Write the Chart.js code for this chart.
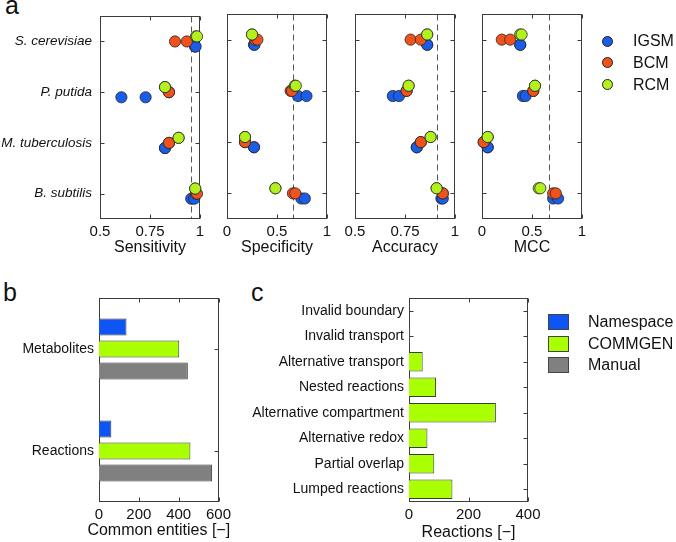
<!DOCTYPE html>
<html><head><meta charset="utf-8">
<script src="https://cdn.jsdelivr.net/npm/chart.js@4.4.0/dist/chart.umd.min.js"></script>
<style>
html,body{margin:0;padding:0;background:#fff;}
body{width:676px;height:542px;position:relative;overflow:hidden;font-family:"Liberation Sans",Arial,sans-serif;color:#111;}
canvas{position:absolute;}
.plabel{position:absolute;font-size:25px;line-height:25px;color:#111;}
.dot{position:absolute;width:11px;height:11px;border-radius:50%;border:1px solid #222;box-sizing:border-box;}
.sq{position:absolute;width:21px;height:16px;border:1px solid #444;box-sizing:border-box;}
.lt{position:absolute;font-size:16px;line-height:16px;white-space:nowrap;}
</style></head><body>
<div class="plabel" style="left:5px;top:-7px;">a</div>
<div class="plabel" style="left:3px;top:280px;">b</div>
<div class="plabel" style="left:251px;top:280px;">c</div>
<canvas id="cSens"></canvas>
<canvas id="cSpec"></canvas>
<canvas id="cAcc"></canvas>
<canvas id="cMcc"></canvas>
<canvas id="cEnt"></canvas>
<canvas id="cRea"></canvas>
<div id="legA"></div>
<div id="legB"></div>
<script>
// ---------------- DATA ----------------
const organisms = ['S. cerevisiae', 'P. putida', 'M. tuberculosis', 'B. subtilis'];
const models = ['IGSM', 'BCM', 'RCM'];
// two values per organism, in organism order
const sensitivityIGSM = [0.975, 0.978, 0.607, 0.728, 0.825, 0.825, 0.956, 0.971];
const sensitivityBCM  = [0.875, 0.934, 0.845, 0.845, 0.845, 0.845, 0.980, 0.985];
const sensitivityRCM  = [0.980, 0.985, 0.825, 0.825, 0.893, 0.893, 0.976, 0.976];
const specificityIGSM = [0.270, 0.275, 0.710, 0.795, 0.270, 0.270, 0.744, 0.778];
const specificityBCM  = [0.281, 0.304, 0.636, 0.650, 0.180, 0.180, 0.659, 0.683];
const specificityRCM  = [0.250, 0.250, 0.678, 0.688, 0.180, 0.180, 0.484, 0.484];
const accuracyIGSM = [0.861, 0.861, 0.689, 0.720, 0.809, 0.809, 0.932, 0.939];
const accuracyBCM  = [0.778, 0.829, 0.758, 0.758, 0.829, 0.829, 0.939, 0.939];
const accuracyRCM  = [0.861, 0.861, 0.768, 0.768, 0.878, 0.878, 0.908, 0.908];
const mccIGSM = [0.382, 0.382, 0.409, 0.436, 0.057, 0.057, 0.711, 0.761];
const mccBCM  = [0.198, 0.282, 0.513, 0.513, 0.017, 0.017, 0.711, 0.738];
const mccRCM  = [0.382, 0.396, 0.530, 0.530, 0.057, 0.057, 0.567, 0.583];
const thresholds = [0.956, 0.658, 0.910, 0.667];
const metricTitles = ['Sensitivity', 'Specificity', 'Accuracy', 'MCC'];

const entityCategories = ['Metabolites', 'Reactions'];
const entitySeries = ['Namespace', 'COMMGEN', 'Manual'];
const namespaceCounts = [138, 62];
const commgenCounts = [403, 459];
const manualCounts = [446, 568];

const reactionCategories = ['Invalid boundary', 'Invalid transport', 'Alternative transport', 'Nested reactions',
  'Alternative compartment', 'Alternative redox', 'Partial overlap', 'Lumped reactions'];
const reactionCounts = [0, 1.5, 46, 91, 292, 62, 85, 146];

// ---------------- STYLE ----------------
const FONT = '"Liberation Sans", Arial, sans-serif';
Chart.defaults.font.family = FONT;
Chart.defaults.color = '#111';
Chart.defaults.animation = false;
const modelColors = ['#1a5de8', '#f0521c', '#b2f01e'];
const barColors = ['#0f55f5', '#aaff00', '#808080'];
const rowOffset = [0.1, 0, -0.1];

function place(id, left, top, w, h) {
  const c = document.getElementById(id);
  c.width = w; c.height = h;
  c.style.left = left + 'px'; c.style.top = top + 'px';
  c.style.width = w + 'px'; c.style.height = h + 'px';
  return c;
}

const framePlugin = {
  id: 'frame',
  beforeDatasetsDraw(chart, args, opts) {
    const { ctx, chartArea: a, scales } = chart;
    const L = Math.round(a.left) + 0.5, R = Math.round(a.right) - 0.5;
    const T = Math.round(a.top) + 0.5, B = Math.round(a.bottom) - 0.5;
    const xs = scales.x, ys = scales.y, tl = 4;
    ctx.save();
    if (opts.threshold != null) {
      const px = Math.round(xs.getPixelForValue(opts.threshold)) + 0.5;
      ctx.strokeStyle = '#555'; ctx.lineWidth = 1; ctx.setLineDash([6, 4]);
      ctx.beginPath(); ctx.moveTo(px, T); ctx.lineTo(px, B); ctx.stroke();
      ctx.setLineDash([]);
    }
    ctx.strokeStyle = '#3c3c3c'; ctx.lineWidth = 1;
    ctx.strokeRect(L, T, R - L, B - T);
    ctx.beginPath();
    xs.ticks.forEach((t, i) => {
      const px = Math.round(xs.getPixelForTick(i)) + 0.5;
      ctx.moveTo(px, B); ctx.lineTo(px, B - tl); ctx.moveTo(px, T); ctx.lineTo(px, T + tl);
    });
    ys.ticks.forEach((t, i) => {
      const py = Math.round(ys.getPixelForTick(i)) + 0.5;
      ctx.moveTo(L, py); ctx.lineTo(L + tl, py); ctx.moveTo(R, py); ctx.lineTo(R - tl, py);
    });
    ctx.stroke();
    ctx.restore();
  },
  afterDraw(chart, args, opts) {
    if (!opts.title) return;
    const { ctx, chartArea: a } = chart;
    ctx.save();
    ctx.font = '16px ' + FONT;
    ctx.fillStyle = '#111';
    ctx.textAlign = 'center';
    ctx.textBaseline = 'middle';
    ctx.fillText(opts.title, (a.left + a.right) / 2, opts.titleY);
    ctx.restore();
  }
};

function fmt(v) { return String(+Number(v).toFixed(2)); }

// ---------------- PANEL A ----------------
const metricSeries = [
  [sensitivityIGSM, sensitivityBCM, sensitivityRCM],
  [specificityIGSM, specificityBCM, specificityRCM],
  [accuracyIGSM, accuracyBCM, accuracyRCM],
  [mccIGSM, mccBCM, mccRCM]
];
const metricMin = [0.5, 0, 0.5, 0];
const metricStep = [0.25, 0.5, 0.25, 0.5];
const boxLeft = [100, 227, 355, 482];
const canvasIds = ['cSens', 'cSpec', 'cAcc', 'cMcc'];
const BOXW = 99.5;

metricSeries.forEach((series, k) => {
  const yw = k === 0 ? 100 : 20;
  const left = boxLeft[k] - yw;
  const padR = 16;
  const w = Math.round(yw + BOXW + padR);
  const canvas = place(canvasIds[k], left, 0, w, 262);
  const datasets = series.map((vals, m) => ({
    label: models[m],
    data: vals.map((v, i) => ({ x: v, y: Math.floor(i / 2) + 1 + rowOffset[m] })),
    backgroundColor: modelColors[m],
    borderColor: '#262626',
    borderWidth: 0.8,
    pointRadius: 5.6,
    pointHoverRadius: 5.6,
    order: 3 - m,
    clip: false
  }));
  new Chart(canvas, {
    type: 'scatter',
    data: { datasets },
    plugins: [framePlugin],
    options: {
      responsive: false,
      events: [],
      layout: { padding: { top: 14, right: padR, left: 0, bottom: 0 } },
      plugins: { legend: { display: false }, tooltip: { enabled: false },
        frame: { threshold: thresholds[k], title: metricTitles[k], titleY: 248 } },
      scales: {
        x: {
          type: 'linear', min: metricMin[k], max: 1,
          grid: { display: false, drawTicks: false },
          border: { display: false },
          ticks: { stepSize: metricStep[k], callback: fmt, padding: 4, maxRotation: 0, font: { size: 15 }, color: '#111' },
          afterFit: s => { s.height = 43; }
        },
        y: {
          type: 'linear', min: 0.5, max: 4.5, reverse: true,
          grid: { display: false, drawTicks: false },
          border: { display: false },
          afterBuildTicks: s => { s.ticks = organisms.map((o, i) => ({ value: i + 1 })); },
          ticks: {
            display: k === 0, padding: 8,
            callback: v => organisms[Math.round(v) - 1] || '',
            font: { size: 13.5, style: 'italic' }, color: '#111'
          },
          afterFit: s => { s.width = yw; }
        }
      }
    }
  });
});

// legend a
(function () {
  const el = document.getElementById('legA');
  const ys = [41, 62.5, 84.5];
  models.forEach((m, i) => {
    const d = document.createElement('div'); d.className = 'dot';
    d.style.left = (607 - 5.5) + 'px'; d.style.top = (ys[i] - 5.5) + 'px'; d.style.background = modelColors[i];
    el.appendChild(d);
    const t = document.createElement('div'); t.className = 'lt'; t.textContent = m;
    t.style.left = '633px'; t.style.top = (ys[i] - 8) + 'px';
    el.appendChild(t);
  });
})();

// ---------------- PANELS B, C ----------------
function barOptions(yw, padR, xmax, title, titleY) {
  return {
    responsive: false, events: [], indexAxis: 'y',
    layout: { padding: { top: 18, right: padR, left: 0, bottom: 0 } },
    plugins: { legend: { display: false }, tooltip: { enabled: false }, frame: { title, titleY } },
    scales: {
      x: {
        min: 0, max: xmax,
        grid: { display: false, drawTicks: false }, border: { display: false },
        ticks: { stepSize: 200, padding: 4, maxRotation: 0, font: { size: 15 }, color: '#111' },
        afterFit: s => { s.height = 40; }
      },
      y: {
        grid: { display: false, drawTicks: false }, border: { display: false },
        ticks: { padding: 5, font: { size: 14 }, color: '#111' },
        afterFit: s => { s.width = yw; }
      }
    }
  };
}

(function () {
  const yw = 99, w = 240;
  const canvas = place('cEnt', 0, 280, w, 262);
  const opts = barOptions(yw, w - 218.5, 600, 'Common entities [\u2212]', 251);
  new Chart(canvas, {
    type: 'bar',
    data: {
      labels: entityCategories,
      datasets: [namespaceCounts, commgenCounts, manualCounts].map((vals, i) => ({
        label: entitySeries[i], data: vals,
        backgroundColor: barColors[i], borderColor: '#3a3a3a', borderWidth: 1,
        categoryPercentage: 0.65, barPercentage: 0.77
      }))
    },
    plugins: [framePlugin],
    options: opts
  });
})();

(function () {
  const left = 240, yw = 169, w = 308;
  const canvas = place('cRea', left, 280, w, 262);
  const opts = barOptions(yw, left + w - 528, 400, 'Reactions [\u2212]', 253);
  new Chart(canvas, {
    type: 'bar',
    data: {
      labels: reactionCategories,
      datasets: [{
        label: 'COMMGEN', data: reactionCounts,
        backgroundColor: barColors[1], borderColor: '#3a3a3a', borderWidth: 1,
        categoryPercentage: 1, barPercentage: 0.77
      }]
    },
    plugins: [framePlugin],
    options: opts
  });
})();

// legend b/c
(function () {
  const el = document.getElementById('legB');
  const ys = [322, 344, 364.5];
  entitySeries.forEach((s, i) => {
    const q = document.createElement('div'); q.className = 'sq';
    q.style.left = '548px'; q.style.top = (ys[i] - 8) + 'px'; q.style.background = barColors[i];
    el.appendChild(q);
    const t = document.createElement('div'); t.className = 'lt'; t.textContent = s;
    t.style.left = '588px'; t.style.top = (ys[i] - 8) + 'px';
    el.appendChild(t);
  });
})();
</script>
</body></html>
